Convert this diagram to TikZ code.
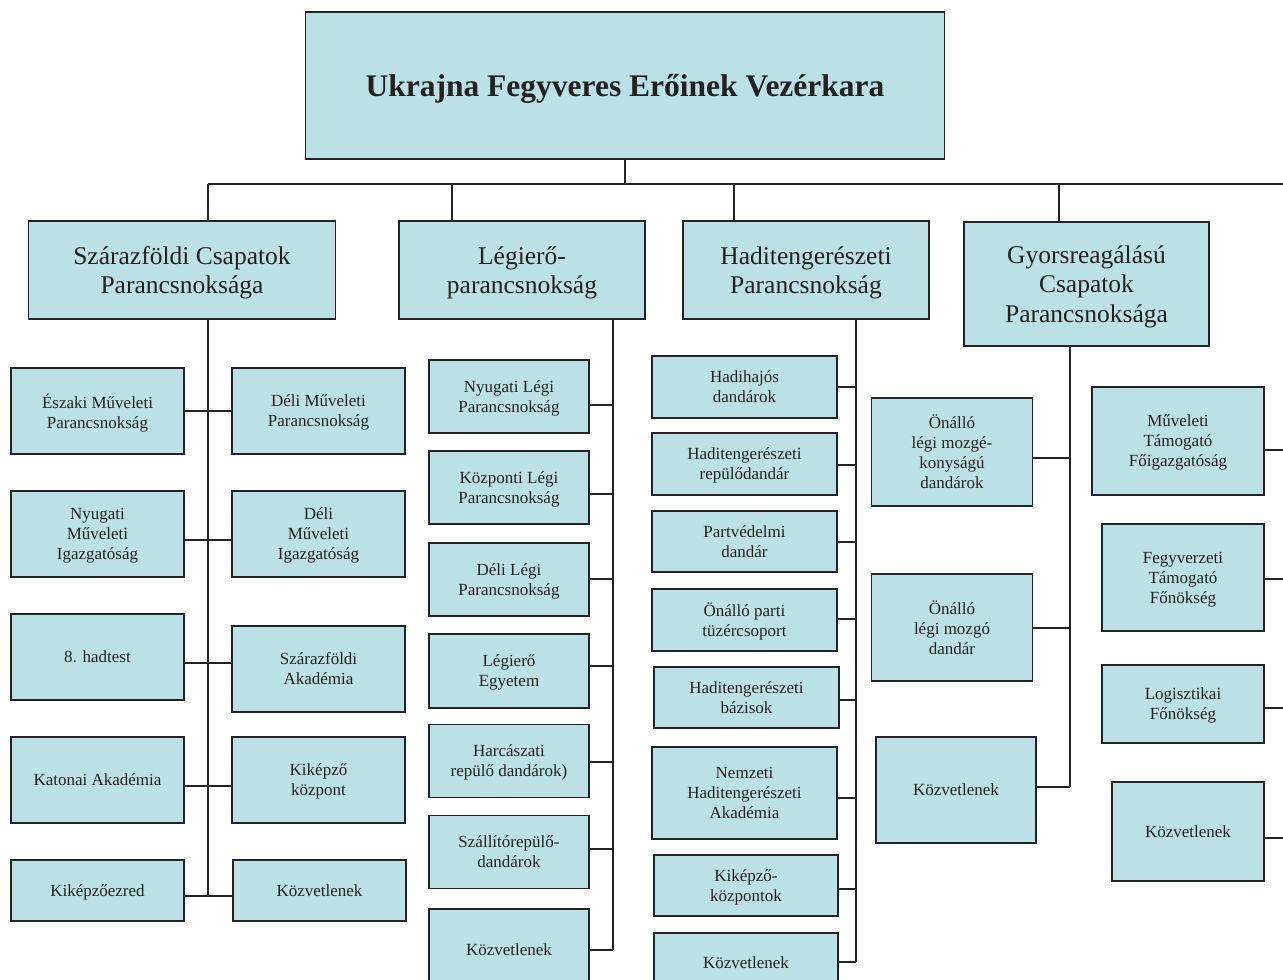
\documentclass[tikz,border=0pt]{standalone}
\usepackage{fontspec}
\setmainfont{Liberation Serif}
\usepackage{tikz}
\usepackage{xcolor}
\usetikzlibrary{positioning}

\definecolor{boxfill}{HTML}{BCE1E4}
\definecolor{boxline}{HTML}{222222}

\tikzset{
    unit/.style={draw=boxline, fill=boxfill, line width=1.8pt, align=center, inner sep=0pt, text depth=0pt, text=boxline, font=\fontsize{17}{20}\selectfont},
    chief/.style={unit, font=\fontsize{25.5}{29.5}\selectfont},
    link/.style={draw=boxline, line width=1.8pt}
}

\begin{document}
\begin{tikzpicture}[x=1pt, y=-1pt]
                    \clip (0, 0) rectangle (1283, 980);
                    \fill[white] (0, 0) rectangle (1283, 980);

                    \node[unit, minimum width=639pt, minimum height=147pt, font=\bfseries\fontsize{31.5}{36}\selectfont] (gs) at (625, 85.5) {Ukrajna Fegyveres Erőinek Vezérkara};

                    \node[chief, minimum width=307pt, minimum height=98pt] (land) at (182, 270) {Szárazföldi Csapatok\\Parancsnoksága};
                    \node[chief, minimum width=246pt, minimum height=98pt] (air) at (522, 270) {Légierő-\\parancsnokság};
                    \node[chief, minimum width=246pt, minimum height=98pt] (navy) at (806, 270) {Haditengerészeti\\Parancsnokság};
                    \node[chief, minimum width=245pt, minimum height=124pt] (rapid) at (1086.5, 284) {Gyorsreagálású\\Csapatok\\Parancsnoksága};

                    \coordinate (busL) at (208, 184);
                    \coordinate (busA) at (452, 184);
                    \coordinate (busN) at (734, 184);
                    \coordinate (busR) at (1059, 184);
                    \coordinate (busE) at (1283, 184);

                    \draw[link]
                    (gs.south) -- (gs.south |- busL)
                    (busL) -- (busE)
                    (busL) -- (busL |- land.north)
                    (busA) -- (busA |- air.north)
                    (busN) -- (busN |- navy.north)
                    (busR) -- (busR |- rapid.north);

                    \node[unit, minimum width=173pt, minimum height=86pt] (eszaki) at (97.5, 411) {Északi Műveleti\\Parancsnokság};
                    \node[unit, minimum width=173pt, minimum height=86pt] (nyugatm) at (97.5, 534) {Nyugati\\Műveleti\\Igazgatóság};
                    \node[unit, minimum width=173pt, minimum height=86pt] (hadtest) at (97.5, 657) {8. hadtest};
                    \node[unit, minimum width=173pt, minimum height=86pt] (katakad) at (97.5, 780) {Katonai Akadémia};
                    \node[unit, minimum width=173pt, minimum height=61pt] (ezred) at (97.5, 890.5) {Kiképzőezred};
                    \node[unit, minimum width=173pt, minimum height=86pt] (delip) at (318.5, 411) {Déli Műveleti\\Parancsnokság};
                    \node[unit, minimum width=173pt, minimum height=86pt] (delii) at (318.5, 534) {Déli\\Műveleti\\Igazgatóság};
                    \node[unit, minimum width=173pt, minimum height=86pt] (szakad) at (318.5, 669) {Szárazföldi\\Akadémia};
                    \node[unit, minimum width=173pt, minimum height=86pt] (kikozp) at (318.5, 780) {Kiképző\\központ};
                    \node[unit, minimum width=173pt, minimum height=61pt] (kozvl) at (319.5, 890.5) {Közvetlenek};

                    \coordinate (l1) at (208, 411);
                    \coordinate (l2) at (208, 540);
                    \coordinate (l3) at (208, 663);
                    \coordinate (l4) at (208, 786);
                    \coordinate (l5) at (208, 896);

                    \draw[link]
                    (land.south -| l1) -- (l5)
                    (eszaki.east |- l1) -- (delip.west |- l1)
                    (nyugatm.east |- l2) -- (delii.west |- l2)
                    (hadtest.east |- l3) -- (szakad.west |- l3)
                    (katakad.east |- l4) -- (kikozp.west |- l4)
                    (ezred.east |- l5) -- (kozvl.west |- l5);

                    \node[unit, minimum width=160pt, minimum height=73pt] (nyleg) at (509, 396.5) {Nyugati Légi\\Parancsnokság};
                    \node[unit, minimum width=160pt, minimum height=73pt] (kpleg) at (509, 487.5) {Központi Légi\\Parancsnokság};
                    \node[unit, minimum width=160pt, minimum height=73pt] (dleg) at (509, 579.5) {Déli Légi\\Parancsnokság};
                    \node[unit, minimum width=160pt, minimum height=74pt] (legegy) at (509, 671) {Légierő\\Egyetem};
                    \node[unit, minimum width=160pt, minimum height=73pt] (harc) at (509, 761) {Harcászati\\repülő dandárok)};
                    \node[unit, minimum width=160pt, minimum height=73pt] (szall) at (509, 852) {Szállítórepülő-\\dandárok};
                    \node[unit, minimum width=160pt, minimum height=81pt] (kozva) at (509, 949.5) {Közvetlenek};

                    \coordinate (a1) at (613, 405);
                    \coordinate (a2) at (613, 494);
                    \coordinate (a3) at (613, 579);
                    \coordinate (a4) at (613, 666);
                    \coordinate (a5) at (613, 762);
                    \coordinate (a6) at (613, 849);
                    \coordinate (a7) at (613, 950);

                    \draw[link]
                    (air.south -| a1) -- (a7)
                    (nyleg.east |- a1) -- (a1)
                    (kpleg.east |- a2) -- (a2)
                    (dleg.east |- a3) -- (a3)
                    (legegy.east |- a4) -- (a4)
                    (harc.east |- a5) -- (a5)
                    (szall.east |- a6) -- (a6)
                    (kozva.east |- a7) -- (a7);

                    \node[unit, minimum width=185pt, minimum height=62pt] (hajo) at (744.5, 387) {Hadihajós\\dandárok};
                    \node[unit, minimum width=185pt, minimum height=62pt] (repdan) at (744.5, 464) {Haditengerészeti\\repülődandár};
                    \node[unit, minimum width=185pt, minimum height=61pt] (part) at (744.5, 541.5) {Partvédelmi\\dandár};
                    \node[unit, minimum width=185pt, minimum height=62pt] (tuzer) at (744.5, 620) {Önálló parti\\tüzércsoport};
                    \node[unit, minimum width=185pt, minimum height=61pt] (bazis) at (746.5, 697.5) {Haditengerészeti\\bázisok};
                    \node[unit, minimum width=185pt, minimum height=92pt] (nemz) at (744.5, 793) {Nemzeti\\Haditengerészeti\\Akadémia};
                    \node[unit, minimum width=184pt, minimum height=61pt] (kikn) at (746, 885.5) {Kiképző-\\központok};
                    \node[unit, minimum width=184pt, minimum height=60pt] (kozvn) at (746, 963) {Közvetlenek};

                    \coordinate (n1) at (856, 387);
                    \coordinate (n2) at (856, 465);
                    \coordinate (n3) at (856, 542);
                    \coordinate (n4) at (856, 619);
                    \coordinate (n5) at (856, 700);
                    \coordinate (n6) at (856, 798);
                    \coordinate (n7) at (856, 889);
                    \coordinate (n8) at (856, 962);

                    \draw[link]
                    (navy.south -| n1) -- (n8)
                    (hajo.east |- n1) -- (n1)
                    (repdan.east |- n2) -- (n2)
                    (part.east |- n3) -- (n3)
                    (tuzer.east |- n4) -- (n4)
                    (bazis.east |- n5) -- (n5)
                    (nemz.east |- n6) -- (n6)
                    (kikn.east |- n7) -- (n7)
                    (kozvn.east |- n8) -- (n8);

                    \node[unit, minimum width=161pt, minimum height=108pt] (mozge) at (952, 452) {Önálló\\légi mozgé-\\konyságú\\dandárok};
                    \node[unit, minimum width=161pt, minimum height=107pt] (mozgo) at (952, 627.5) {Önálló\\légi mozgó\\dandár};
                    \node[unit, minimum width=160pt, minimum height=106pt] (kozvr) at (956, 790) {Közvetlenek};

                    \coordinate (r1) at (1070, 458);
                    \coordinate (r2) at (1070, 628);
                    \coordinate (r3) at (1070, 787);

                    \draw[link]
                    (rapid.south -| r1) -- (r3)
                    (mozge.east |- r1) -- (r1)
                    (mozgo.east |- r2) -- (r2)
                    (kozvr.east |- r3) -- (r3);

                    \node[unit, minimum width=172pt, minimum height=108pt] (mutam) at (1178, 441) {Műveleti\\Támogató\\Főigazgatóság};
                    \node[unit, minimum width=162pt, minimum height=107pt] (fegy) at (1183, 577.5) {Fegyverzeti\\Támogató\\Főnökség};
                    \node[unit, minimum width=162pt, minimum height=78pt] (logi) at (1183, 704) {Logisztikai\\Főnökség};
                    \node[unit, minimum width=152pt, minimum height=99pt] (kozvs) at (1188, 831.5) {Közvetlenek};

                    \coordinate (e1) at (1283, 450);
                    \coordinate (e2) at (1283, 579);
                    \coordinate (e3) at (1283, 708);
                    \coordinate (e4) at (1283, 838);

                    \draw[link]
                    (mutam.east |- e1) -- (e1)
                    (fegy.east |- e2) -- (e2)
                    (logi.east |- e3) -- (e3)
                    (kozvs.east |- e4) -- (e4);
\end{tikzpicture}
\end{document}
